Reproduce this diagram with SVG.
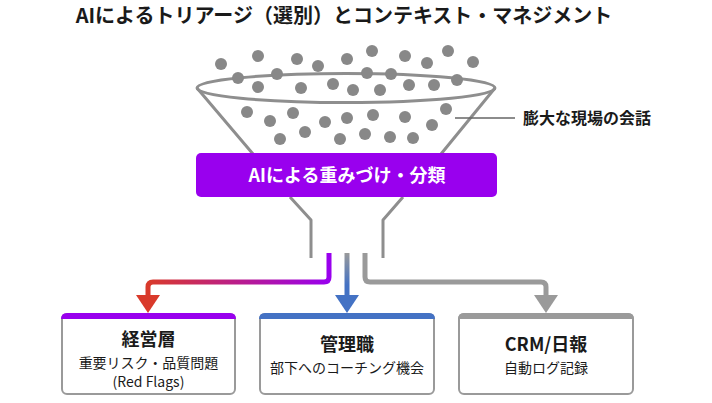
<svg xmlns="http://www.w3.org/2000/svg" width="712" height="403" viewBox="0 0 712 403">
<defs>
<style>
text{font-family:"Noto Sans CJK JP","Noto Sans",sans-serif;fill:#1a1a1a}
.title{font-size:20px;font-weight:700}
.label{font-size:16px;font-weight:700}
.band{font-size:18px;font-weight:700;fill:#fff}
.bt{font-size:18px;font-weight:700}
.bs{font-size:14px;font-weight:400}
.funnel{fill:none;stroke:#8e8e8e;stroke-width:3;stroke-linejoin:round}
.dot{fill:#888}
.box{fill:#fff;stroke:#9a9a9a;stroke-width:2}
.conn{fill:none;stroke-width:5;stroke-linejoin:round}
</style>
<linearGradient id="gRed" gradientUnits="userSpaceOnUse" x1="148" y1="0" x2="329" y2="0">
<stop offset="0" stop-color="#d93a2b"/><stop offset="1" stop-color="#9900ee"/>
</linearGradient>
<linearGradient id="gBlue" gradientUnits="userSpaceOnUse" x1="0" y1="253" x2="0" y2="285">
<stop offset="0" stop-color="#9a9a9a"/><stop offset="1" stop-color="#4472c4"/>
</linearGradient>
</defs>
<rect width="712" height="403" fill="#fff"/>
<text class="title" x="344" y="23" text-anchor="middle">AIによるトリアージ（選別）とコンテキスト・マネジメント</text>

<g id="funnel">
<ellipse class="funnel" cx="346" cy="88" rx="149" ry="14.5"/>
<path class="funnel" d="M197,88 L253,154 M495,88 L441,154"/>
<path class="funnel" d="M290,197 L311,220 V258 M403,197 L383,220 V258"/>
<g class="dot">
<circle cx="221" cy="64" r="6"/><circle cx="258" cy="56" r="6"/><circle cx="297" cy="59" r="6"/><circle cx="318" cy="66" r="6"/><circle cx="347" cy="59" r="6"/><circle cx="372" cy="51" r="6"/><circle cx="405" cy="56" r="6"/><circle cx="427" cy="63" r="6"/><circle cx="448" cy="51" r="6"/><circle cx="473" cy="62" r="6"/>
<circle cx="238" cy="78" r="6"/><circle cx="277" cy="74" r="6"/><circle cx="367" cy="73" r="6"/><circle cx="391" cy="74" r="6"/><circle cx="457" cy="80" r="6"/>
<circle cx="258" cy="87" r="6"/><circle cx="301" cy="88" r="6"/><circle cx="333" cy="84" r="6"/><circle cx="353" cy="90" r="6"/><circle cx="380" cy="90" r="6"/><circle cx="409" cy="85" r="6"/><circle cx="434" cy="85" r="6"/>
<circle cx="247" cy="112" r="6"/><circle cx="270" cy="121" r="6"/><circle cx="293" cy="113" r="6"/><circle cx="325" cy="122" r="6"/><circle cx="347" cy="118" r="6"/><circle cx="373" cy="115" r="6"/><circle cx="405" cy="117" r="6"/><circle cx="446" cy="109" r="6"/><circle cx="432" cy="125" r="6"/>
<circle cx="305" cy="132" r="6"/><circle cx="280" cy="139" r="6"/><circle cx="340" cy="139" r="6"/><circle cx="365" cy="134" r="6"/><circle cx="390" cy="137" r="6"/><circle cx="413" cy="138" r="6"/>
</g>
</g>

<g id="label">
<line x1="455" y1="118" x2="515" y2="118" stroke="#666" stroke-width="1.5"/>
<text class="label" x="523" y="124">膨大な現場の会話</text>
</g>

<g id="ai-band">
<rect x="196" y="153" width="301" height="44" rx="5" fill="#9900ee"/>
<text class="band" x="347" y="182" text-anchor="middle">AIによる重みづけ・分類</text>
</g>

<g id="connectors">
<path class="conn" stroke="url(#gRed)" d="M329,253 V277 Q329,282 324,282 H153 Q148,282 148,287 V297"/>
<polygon points="136,295 160,295 148,313" fill="#d93a2b"/>
<path class="conn" stroke="url(#gBlue)" d="M347,253 V297"/>
<polygon points="335,295 359,295 347,313" fill="#4472c4"/>
<path class="conn" stroke="#9a9a9a" d="M365,253 V277 Q365,282 370,282 H541 Q546,282 546,287 V297"/>
<polygon points="534,295 558,295 546,313" fill="#9a9a9a"/>
</g>

<g id="box-exec">
<rect class="box" x="62" y="314" width="173" height="80" rx="5"/>
<path d="M61,319 Q61,313 67,313 H230 Q236,313 236,319 Z" fill="#9900ee"/>
<text class="bt" x="148.5" y="346" text-anchor="middle">経営層</text>
<text class="bs" x="148.5" y="368" text-anchor="middle">重要リスク・品質問題</text>
<text class="bs" x="148.5" y="387" text-anchor="middle">(Red Flags)</text>
</g>

<g id="box-mgr">
<rect class="box" x="260" y="314" width="174" height="80" rx="5"/>
<path d="M259,319 Q259,313 265,313 H429 Q435,313 435,319 Z" fill="#4472c4"/>
<text class="bt" x="347" y="351" text-anchor="middle">管理職</text>
<text class="bs" x="347" y="373" text-anchor="middle">部下へのコーチング機会</text>
</g>

<g id="box-crm">
<rect class="box" x="459" y="314" width="174" height="80" rx="5"/>
<path d="M458,319 Q458,313 464,313 H628 Q634,313 634,319 Z" fill="#9a9a9a"/>
<text class="bt" x="546" y="351" text-anchor="middle">CRM/日報</text>
<text class="bs" x="546" y="373" text-anchor="middle">自動ログ記録</text>
</g>
</svg>
